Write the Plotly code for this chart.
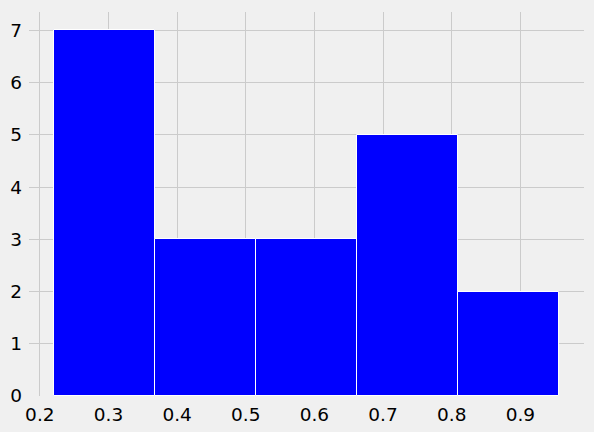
import plotly.graph_objects as go

# histogram: bin edges and counts
bin_edges = [0.221, 0.368, 0.515, 0.662, 0.809, 0.956]
counts = [7, 3, 3, 5, 2]
x_ticks = [0.2, 0.3, 0.4, 0.5, 0.6, 0.7, 0.8, 0.9]
y_ticks = [0, 1, 2, 3, 4, 5, 6, 7]

centers = [(a + b) / 2 for a, b in zip(bin_edges[:-1], bin_edges[1:])]
widths = [b - a for a, b in zip(bin_edges[:-1], bin_edges[1:])]

fig = go.Figure()
fig.add_trace(go.Bar(x=centers, y=counts, width=widths,
                     marker={'color': 'blue', 'line': {'color': 'white', 'width': 1}}))

span = bin_edges[-1] - bin_edges[0]
fig.update_layout(width=594, height=432,
                  margin={'l': 29, 'r': 10, 't': 12, 'b': 36, 'autoexpand': False},
                  paper_bgcolor='#f0f0f0', plot_bgcolor='#f0f0f0',
                  font={'family': 'DejaVu Sans', 'size': 18.5, 'color': 'black'},
                  showlegend=False, bargap=0)
fig.update_xaxes(range=[bin_edges[0] - 0.05 * span, bin_edges[-1] + 0.05 * span],
                 tickvals=x_ticks, ticktext=[f'{v:.1f}' for v in x_ticks],
                 showgrid=True, gridcolor='#cbcbcb', gridwidth=1.4, zeroline=False,
                 showline=False, ticks='', ticklabelstandoff=5, automargin=False)
fig.update_yaxes(range=[0, max(counts) * 1.05], tickvals=y_ticks,
                 showgrid=True, gridcolor='#cbcbcb', gridwidth=1.4, zeroline=False,
                 showline=False, ticks='', ticklabelstandoff=6, automargin=False)

# page has a default 8px body margin; remove it so the figure sits at (0, 0)
fig.write_html("out.html", config={'displayModeBar': False},
               post_script="document.body.style.margin = '0';")
